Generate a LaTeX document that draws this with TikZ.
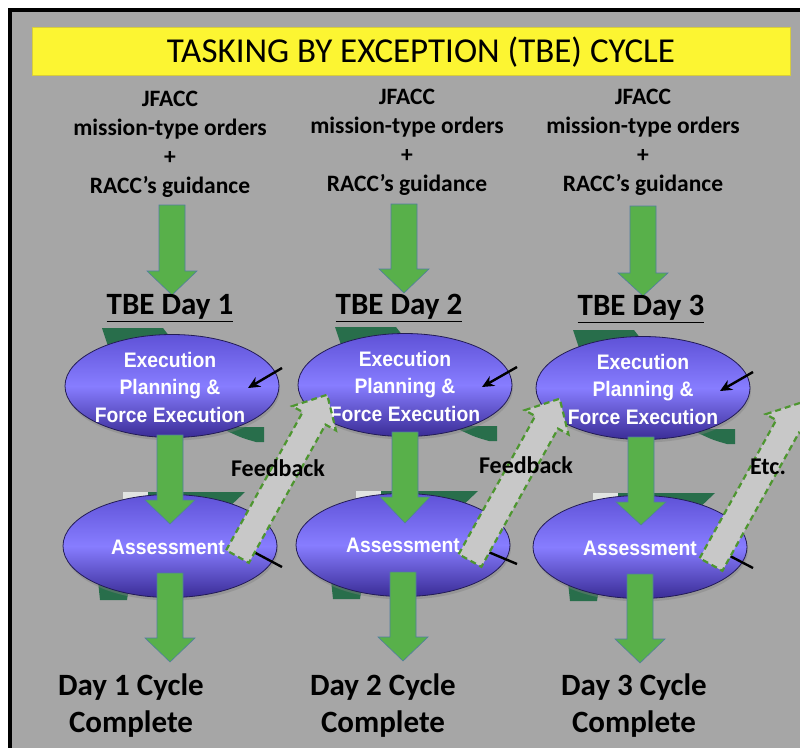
\documentclass[tikz,border=0pt]{standalone}
\usepackage{fontspec}
\setmainfont{Carlito}
\newfontfamily\ellfont{Liberation Sans}[FakeStretch=0.92]
\usetikzlibrary{shapes.geometric,shadows,arrows.meta}

\definecolor{panelgray}{RGB}{166,166,166}
\definecolor{bannerfill}{RGB}{252,245,50}
\definecolor{banneredge}{RGB}{215,205,60}
\definecolor{arrowgreen}{RGB}{88,176,74}
\definecolor{arrowedge}{RGB}{80,125,160}
\definecolor{ringgreen}{RGB}{40,110,75}
\definecolor{ringlight}{RGB}{225,228,225}
\definecolor{ellmid}{RGB}{135,125,255}
\definecolor{elltop}{RGB}{95,82,215}
\definecolor{ellbot}{RGB}{58,44,150}
\definecolor{ellline}{RGB}{35,28,85}
\definecolor{fbfill}{RGB}{200,200,200}
\definecolor{fbdash}{RGB}{78,150,48}

\tikzset{
  stage/.style={ellipse, draw=ellline, line width=0.8pt,
    top color=elltop, bottom color=ellbot, middle color=ellmid,
    minimum width=214, minimum height=103, inner sep=0pt,
    drop shadow={opacity=0.4, shadow xshift=1pt, shadow yshift=-3pt}},
  stagetext/.style={text=white, align=center, inner sep=0pt,
    font=\ellfont\bfseries\fontsize{21}{27.5}\selectfont},
  source/.style={align=center, inner sep=0pt,
    font=\bfseries\fontsize{23.5}{29}\selectfont},
  daytitle/.style={inner sep=0pt, font=\bfseries\fontsize{31}{36}\selectfont},
  donetext/.style={align=center, inner sep=0pt,
    font=\bfseries\fontsize{31}{37}\selectfont},
  fblabel/.style={inner sep=0pt, font=\bfseries\fontsize{24}{28}\selectfont},
  flow/.style={fill=arrowgreen, draw=arrowedge, line width=0.6pt},
  fb/.style={fill=fbfill, draw=fbdash, line width=2.2pt,
    dash pattern=on 6pt off 4pt, line join=miter},
  ring/.style={fill=ringgreen},
  ringpale/.style={fill=ringlight},
  pointer/.style={line width=2.4pt, -{Stealth[length=12pt,width=11pt]}},
  tailline/.style={line width=2.4pt}
}

% green block arrow pointing down: centre x, top y, head start y, tip y
\newcommand\greendown[4]{%
  \draw[flow] ({#1-13},#2) -- ({#1+13},#2) -- ({#1+13},#3) -- ({#1+25},#3)
    -- (#1,#4) -- ({#1-25},#3) -- ({#1-13},#3) -- cycle;}

% dashed feedback arrow: tail centre x, y
\newcommand\feedbackarrow[2]{%
  \begin{scope}[shift={(#1,#2)}, rotate=61]
    \draw[fb] (0,-13) -- (158,-13) -- (158,-25) -- (185,0) -- (158,25)
      -- (158,13) -- (0,13) -- cycle;
  \end{scope}}

% dark green ring pieces peeking out behind the two ellipses of a day
\newcommand\ringbits[4]{%
  \fill[ring] ({#1-70},{#2-58}) -- ({#1-9},{#2-58}) -- ({#1+5},{#2-40})
    -- ({#1-64},{#2-40}) -- cycle;
  \fill[ring] ({#1+55},{#2+41}) -- ({#1+92},{#2+41}) -- ({#1+92},{#2+56})
    -- ({#1+84},{#2+56}) .. controls ({#1+70},{#2+52}) .. ({#1+55},{#2+45}) -- cycle;
  \fill[ringpale] ({#3-47},{#4-54}) -- ({#3-22},{#4-54}) -- ({#3-22},{#4-40})
    -- ({#3-47},{#4-40}) -- cycle;
  \fill[ring] ({#3-22},{#4-54}) -- ({#3+75},{#4-54}) -- ({#3+55},{#4-35})
    -- ({#3-22},{#4-35}) -- cycle;
  \fill[ring] ({#3-72},{#4+35}) -- ({#3-40},{#4+35}) -- ({#3-43},{#4+54})
    -- ({#3-70},{#4+54}) -- cycle;}

\begin{document}
\begin{tikzpicture}[x=1pt,y=-1pt]
\useasboundingbox (0,0) rectangle (800,747);
\clip (0,0) rectangle (800,747);
\fill[white] (0,0) rectangle (800,747);
\draw[line width=4pt, fill=panelgray] (10,10) rectangle (840,790);

% title banner
\node[draw=banneredge, fill=bannerfill, minimum width=758, minimum height=48,
  inner sep=0pt] (banner) at (411,51) {};
\node[inner sep=0pt, font=\fontsize{35}{40}\selectfont] (title) at (421,52)
  {TASKING BY EXCEPTION (TBE) CYCLE};

% inputs
\node[source] (src1) at (170,144) {JFACC\\mission-type orders\\+\\RACC’s guidance};
\node[source] (src2) at (407,142) {JFACC\\mission-type orders\\+\\RACC’s guidance};
\node[source] (src3) at (643,142) {JFACC\\mission-type orders\\+\\RACC’s guidance};

\greendown{172}{205}{271}{295}
\greendown{404}{204}{269}{293}
\greendown{643}{206}{273}{296}

\node[daytitle] (day1) at (170,308) {\underline{TBE Day 1}};
\node[daytitle] (day2) at (399,308) {\underline{TBE Day 2}};
\node[daytitle] (day3) at (641,309) {\underline{TBE Day 3}};

% rings behind the stages
\ringbits{172}{386}{170}{546}
\ringbits{405}{385}{403}{545}
\ringbits{643}{388}{640}{547}

% stages
\node[stage] (exec1) at (172,386) {};
\node[stage] (exec2) at (405,385) {};
\node[stage] (exec3) at (643,388) {};
\node[stage] (assess1) at (170,546) {};
\node[stage] (assess2) at (403,545) {};
\node[stage] (assess3) at (640,547) {};

\node[stagetext] (exect1) at (170,387) {Execution\\Planning \&\\Force Execution};
\node[stagetext] (exect2) at (405,386) {Execution\\Planning \&\\Force Execution};
\node[stagetext] (exect3) at (643,389) {Execution\\Planning \&\\Force Execution};
\node[stagetext] (assesst1) at (168,547) {Assessment};
\node[stagetext] (assesst2) at (403,545) {Assessment};
\node[stagetext] (assesst3) at (640,548) {Assessment};

% flow from planning to assessment and on to completion
\greendown{170}{435}{500}{524}
\greendown{405}{432}{497}{523}
\greendown{641}{437}{502}{525}
\greendown{170}{573}{638}{662}
\greendown{403}{572}{637}{661}
\greendown{640}{574}{639}{663}

% incoming pointers and outgoing lines at the stages
\coordinate (in1) at (282,368);
\coordinate (in2) at (517,367);
\coordinate (in3) at (753,372);
\coordinate (tip1) at (248,388);
\coordinate (tip2) at (482,387);
\coordinate (tip3) at (720,391);
\draw[pointer] (in1) -- (tip1);
\draw[pointer] (in2) -- (tip2);
\draw[pointer] (in3) -- (tip3);
\coordinate (from1) at (250,550);
\coordinate (from2) at (486,551);
\coordinate (from3) at (730,556);
\coordinate (out1) at (282,567);
\coordinate (out2) at (517,564);
\coordinate (out3) at (753,568);
\draw[tailline] (from1) -- (out1);
\draw[tailline] (from2) -- (out2);
\draw[tailline] (from3) -- (out3);

% feedback arrows
\feedbackarrow{237.5}{556.5}
\feedbackarrow{470}{560.5}
\feedbackarrow{711}{564.5}

\node[fblabel] (fb1) at (278,468) {Feedback};
\node[fblabel] (fb2) at (526,465) {Feedback};
\node[fblabel] (fb3) at (768,467) {Etc.};

% completion
\node[donetext] (done1) at (131,706) {Day 1 Cycle\\Complete};
\node[donetext] (done2) at (383,706) {Day 2 Cycle\\Complete};
\node[donetext] (done3) at (634,706) {Day 3 Cycle\\Complete};
\end{tikzpicture}
\end{document}
